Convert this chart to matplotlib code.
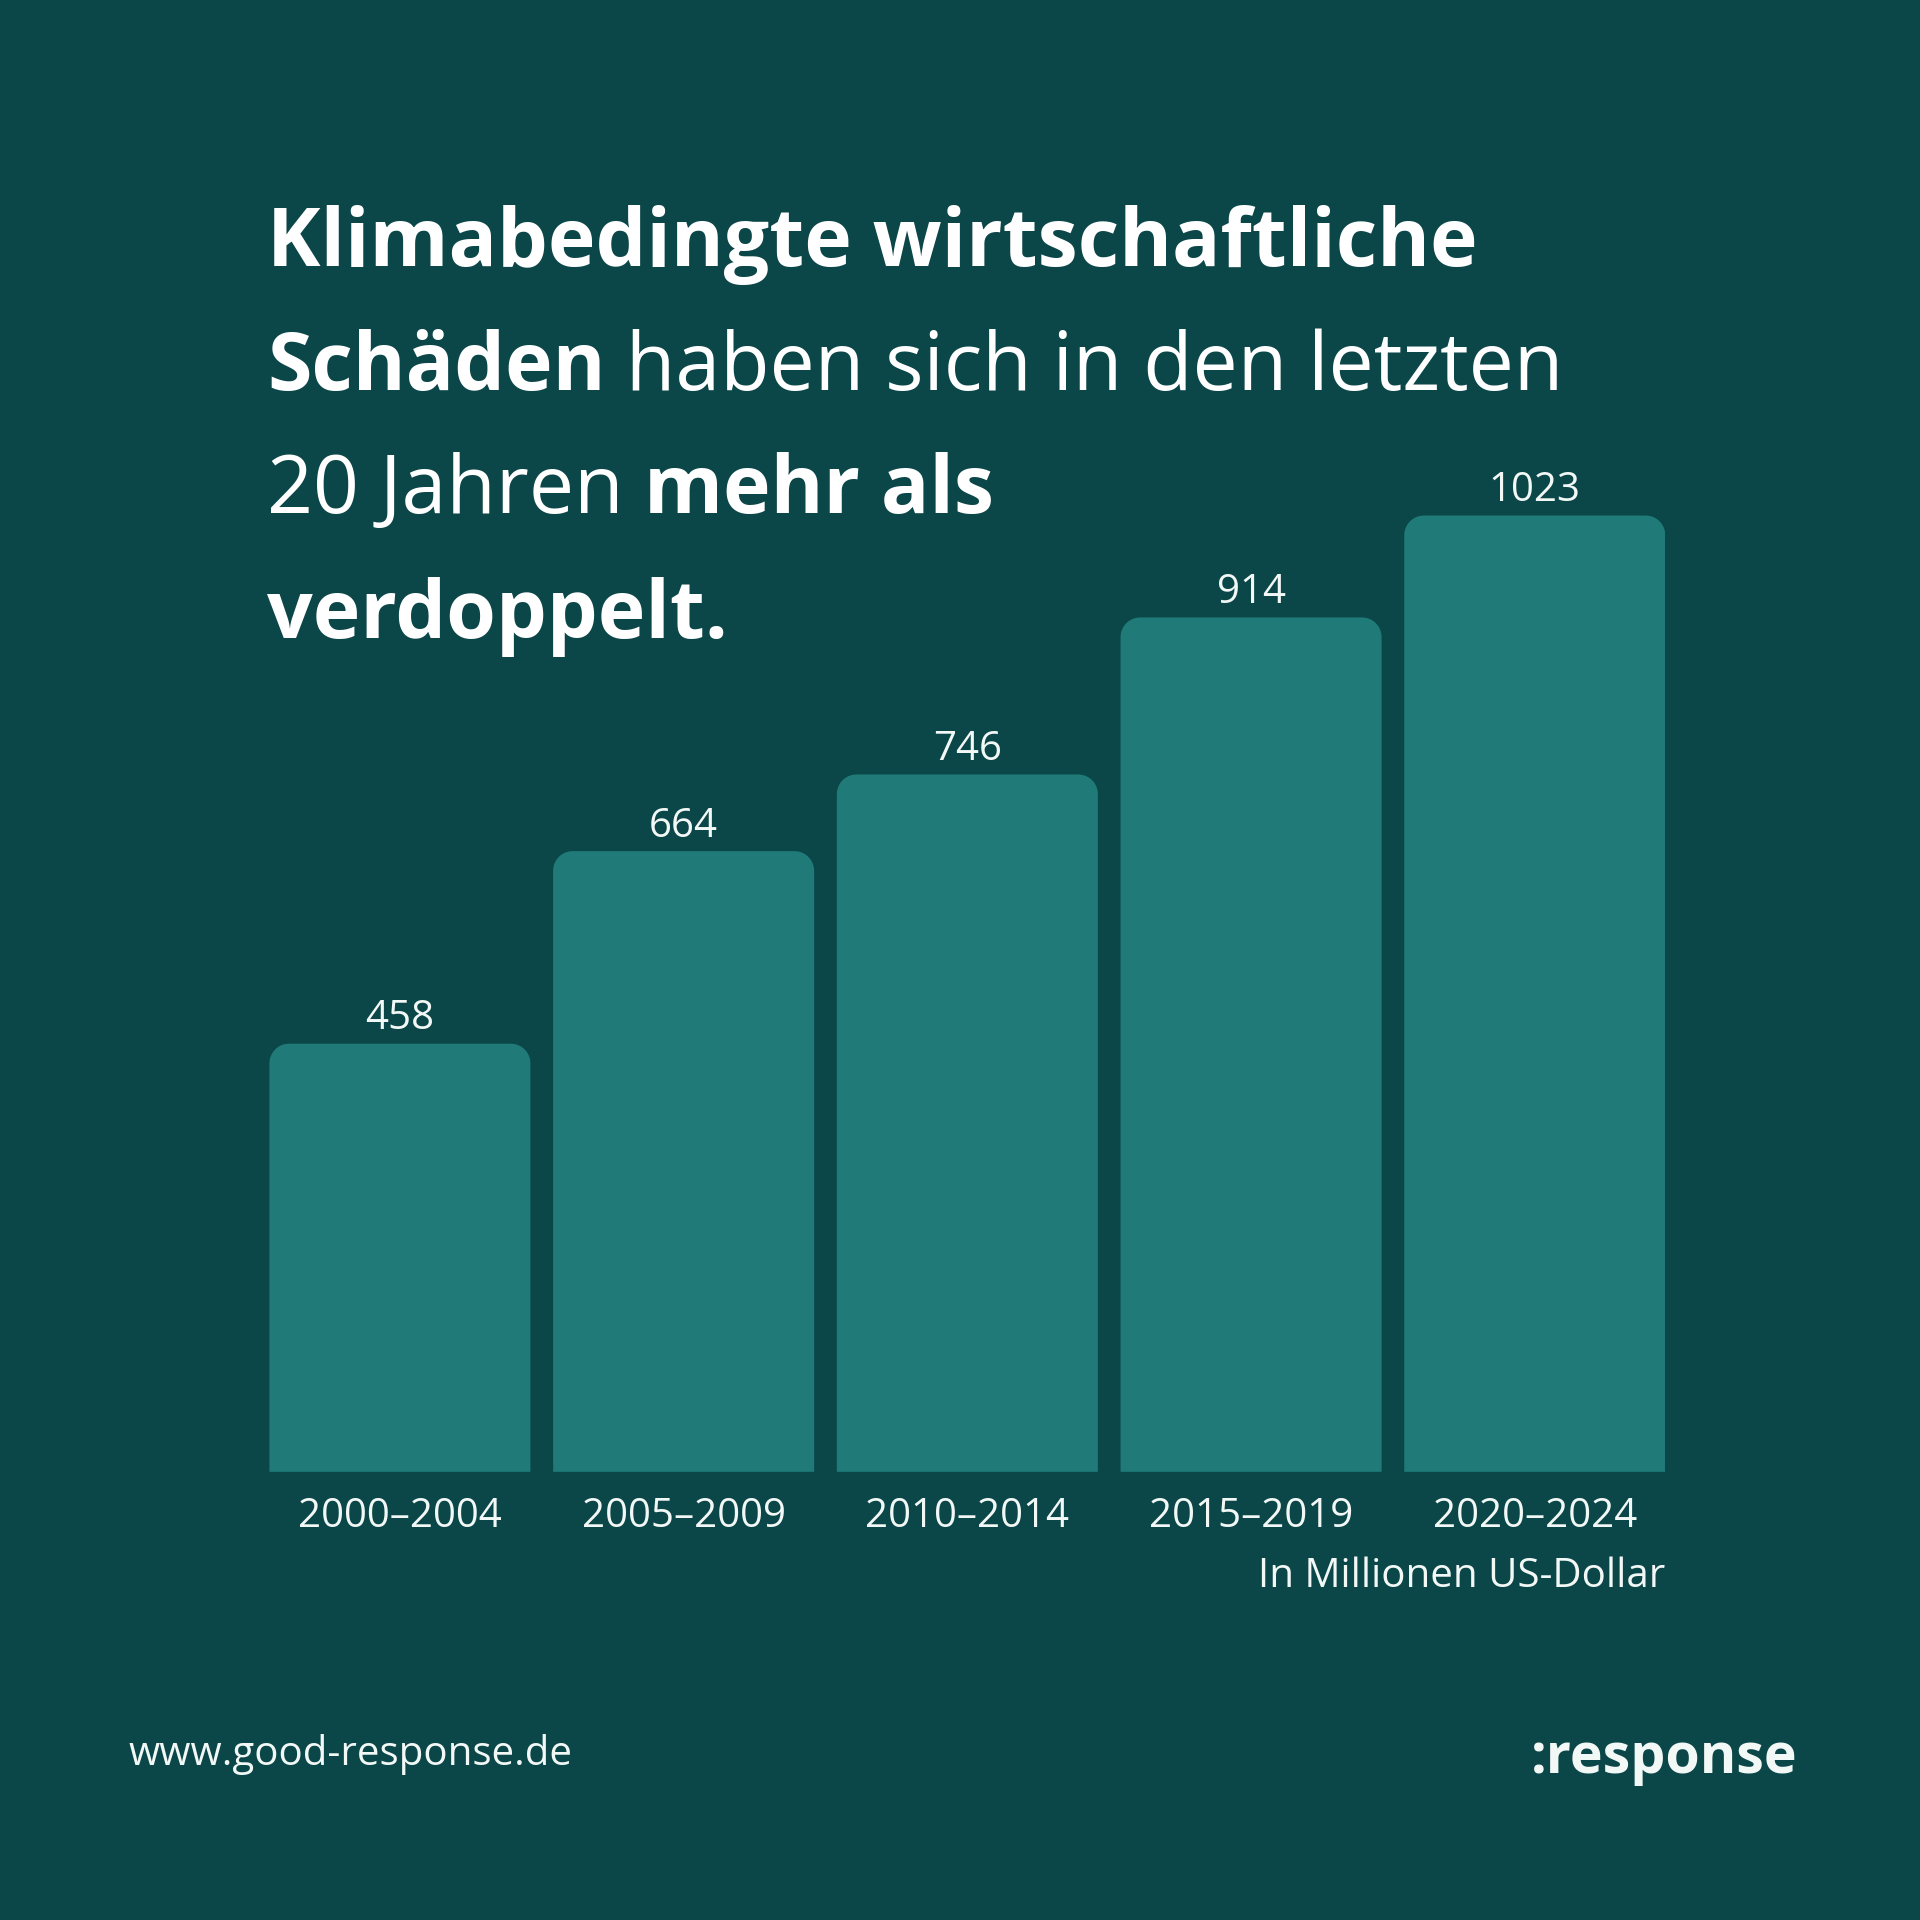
import numpy as np
import matplotlib.pyplot as plt
from matplotlib.patches import Polygon

periods = ["2000–2004", "2005–2009", "2010–2014", "2015–2019", "2020–2024"]
values = [458, 664, 746, 914, 1023]
unit_note = "In Millionen US-Dollar"
title_lines = [
    [("Klimabedingte wirtschaftliche", "bold")],
    [("Schäden", "bold"), (" haben sich in den letzten", "normal")],
    [("20 Jahren ", "normal"), ("mehr als", "bold")],
    [("verdoppelt.", "bold")],
]
url = "www.good-response.de"
brand = ":response"

bg = "#0b4648"
bar_col = "#1f7a78"
txt = "#f2f8f6"
S = 1568.0  # reference pixel space

plt.rcParams["font.family"] = ["Open Sans", "DejaVu Sans"]

fig = plt.figure(figsize=(19.2, 19.2), dpi=100, facecolor=bg)

# axes: bars from x=220 to 1360, baseline at y=1202
ymax = 1050
px_per_unit = (1202 - 421) / 1023.0
ax_h = ymax * px_per_unit
ax = fig.add_axes([220 / S, (S - 1202) / S, 1140 / S, ax_h / S])
ax.set_facecolor(bg)
bw = 213 / 231.5
ax.set_xlim(-bw / 2, len(values) - 1 + bw / 2)
ax.set_ylim(0, ymax)
ax.axis("off")

x_per_px = (len(values) - 1 + bw) / 1140.0
y_per_px = ymax / ax_h
rx = 16 * x_per_px
ry = 16 * y_per_px
ang = np.linspace(0, np.pi / 2, 12)

# bars with rounded top corners
for i, v in enumerate(values):
    x0, x1 = i - bw / 2, i + bw / 2
    left = np.column_stack([x0 + rx - rx * np.cos(ang), v - ry + ry * np.sin(ang)])
    right = np.column_stack([x1 - rx + rx * np.sin(ang), v - ry + ry * np.cos(ang)])
    pts = np.vstack([[[x0, 0]], left, right, [[x1, 0]]])
    ax.add_patch(Polygon(pts, closed=True, fc=bar_col, ec="none"))
    ax.text(i, v + 20 * y_per_px, str(v), ha="center", va="center",
            fontsize=29, color=txt)
    ax.text(i, -37 * y_per_px, periods[i], ha="center", va="center",
            fontsize=29, color=txt, clip_on=False)

fig.text(1360 / S, 1 - 1288 / S, unit_note, ha="right", va="center",
         fontsize=29, color=txt)

# title with mixed weights
fig.canvas.draw()
renderer = fig.canvas.get_renderer()
line_y = [200, 301, 402, 504]
for segs, yy in zip(title_lines, line_y):
    x0 = 218 / S
    for s, w in segs:
        t = fig.text(x0, 1 - yy / S, s, ha="left", va="center",
                     fontsize=58, fontweight=w, color="white")
        bb = t.get_window_extent(renderer)
        x0 += bb.width / fig.bbox.width

fig.text(105 / S, 1 - 1433 / S, url, ha="left", va="center",
         fontsize=29, color=txt)
fig.text(1468 / S, 1 - 1436 / S, brand, ha="right", va="center",
         fontsize=40, fontweight="bold", color=txt)

fig.savefig("out.png", dpi=100, facecolor=bg)
